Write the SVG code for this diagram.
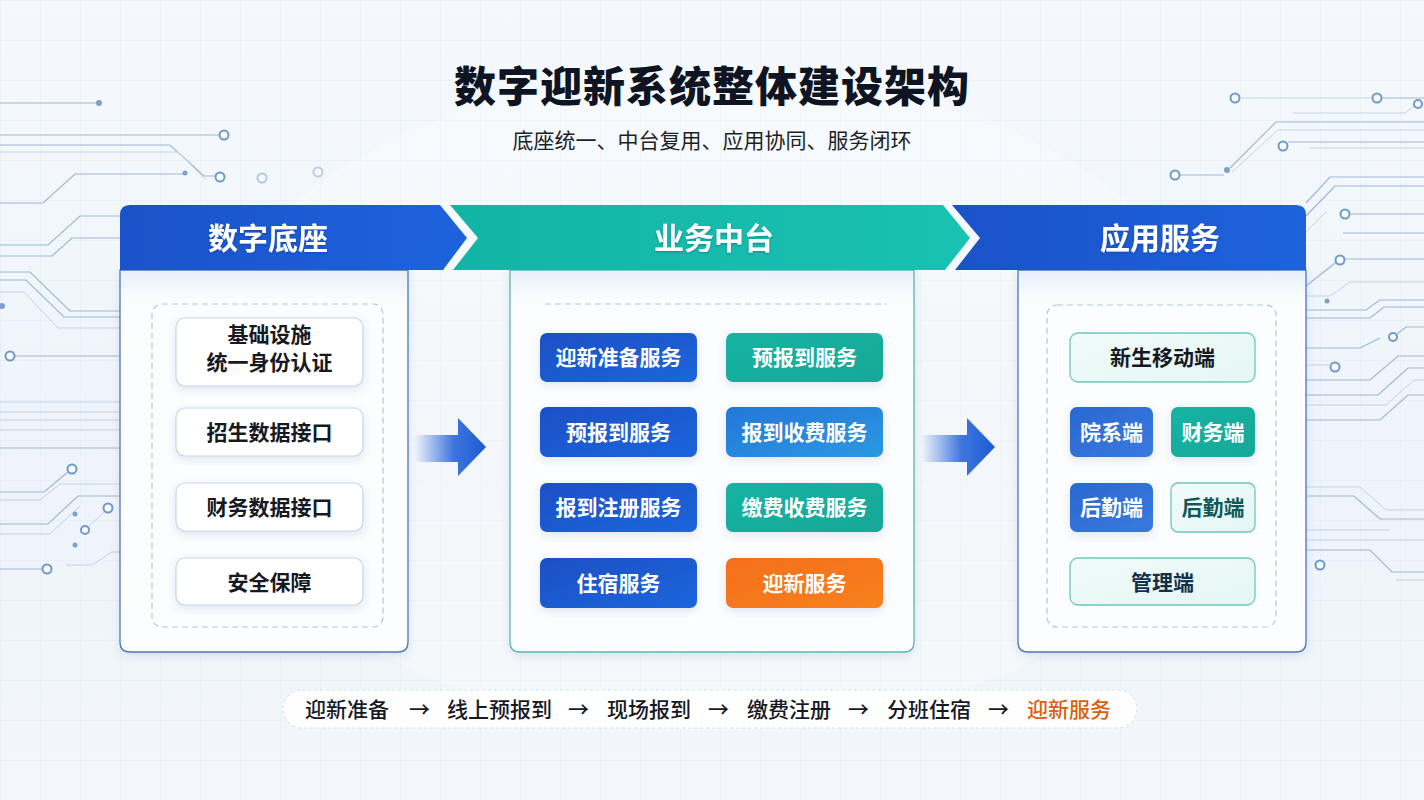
<svg xmlns="http://www.w3.org/2000/svg" width="1424" height="800" viewBox="0 0 1424 800">
<defs>
<style>
.cjk{font-family:"Noto Sans CJK SC","Noto Sans",sans-serif;}
.title{font-size:42px;font-weight:900;fill:#0e1422;letter-spacing:1px;}
.sub{font-size:21px;font-weight:400;fill:#1c1f26;}
.hdr{font-size:30px;font-weight:700;fill:#ffffff;}
.itm{font-size:21px;font-weight:600;fill:#16191f;}
.btn{font-size:21px;font-weight:700;fill:#ffffff;}
.flow{font-size:21px;font-weight:500;fill:#16191f;}
.circ{fill:none;stroke:#9db7d6;stroke-width:1.2;}
.circ2{fill:none;stroke:#c3d3e6;stroke-width:1;}
.ring{fill:#f7fafd;stroke:#7098c8;stroke-width:2;}
.dot{fill:#7c9fcc;}
.panelB{fill:url(#panelFill);stroke:#4d78b8;stroke-width:1.3;}
.panelT{fill:url(#panelFill);stroke:#5bb9ad;stroke-width:1.3;}
.dash{fill:none;stroke:#b7c5d6;stroke-width:1.2;stroke-dasharray:6 4;}
.card{fill:#ffffff;stroke:#c8d5e4;stroke-width:1.2;}
.lt{fill:url(#ltGrad);stroke:#6ec7ba;stroke-width:1.3;}
</style>
<linearGradient id="bg" x1="0" y1="0" x2="0" y2="1">
<stop offset="0" stop-color="#f5f9fd"/>
<stop offset="0.6" stop-color="#eef4fa"/>
<stop offset="1" stop-color="#f3f7fb"/>
</linearGradient>
<pattern id="grid" width="40" height="40" patternUnits="userSpaceOnUse">
<path d="M40 0H0V40" fill="none" stroke="#e0e9f3" stroke-width="1"/>
</pattern>
<linearGradient id="hBlue" x1="0" y1="0" x2="1" y2="0">
<stop offset="0" stop-color="#1a52c9"/>
<stop offset="1" stop-color="#1e63dc"/>
</linearGradient>
<linearGradient id="hTeal" x1="0" y1="0" x2="1" y2="0">
<stop offset="0" stop-color="#12b4a6"/>
<stop offset="1" stop-color="#19c2b2"/>
</linearGradient>
<linearGradient id="panelFill" x1="0" y1="0" x2="0" y2="1">
<stop offset="0" stop-color="#e6f0fb"/>
<stop offset="0.08" stop-color="#fbfdff"/>
<stop offset="1" stop-color="#fbfdff"/>
</linearGradient>
<linearGradient id="bBlue" x1="0" y1="0" x2="1" y2="1">
<stop offset="0" stop-color="#1a4fc6"/>
<stop offset="1" stop-color="#1f66db"/>
</linearGradient>
<linearGradient id="bTeal" x1="0" y1="0" x2="1" y2="1">
<stop offset="0" stop-color="#19b3a3"/>
<stop offset="1" stop-color="#14a898"/>
</linearGradient>
<linearGradient id="bSky" x1="0" y1="0" x2="1" y2="1">
<stop offset="0" stop-color="#2477d8"/>
<stop offset="1" stop-color="#2c98e2"/>
</linearGradient>
<linearGradient id="bOrange" x1="0" y1="0" x2="1" y2="1">
<stop offset="0" stop-color="#f56f1a"/>
<stop offset="1" stop-color="#f7801f"/>
</linearGradient>
<linearGradient id="bMid" x1="0" y1="0" x2="1" y2="1">
<stop offset="0" stop-color="#2a68d2"/>
<stop offset="1" stop-color="#3a7ade"/>
</linearGradient>
<linearGradient id="ltGrad" x1="0" y1="0" x2="1" y2="1">
<stop offset="0" stop-color="#f1fbfa"/>
<stop offset="1" stop-color="#e4f6f4"/>
</linearGradient>
<linearGradient id="arrowG" x1="0" y1="0" x2="1" y2="0">
<stop offset="0" stop-color="#1f5fd8" stop-opacity="0"/>
<stop offset="0.55" stop-color="#1f5fd8" stop-opacity="0.85"/>
<stop offset="1" stop-color="#1c5ad6"/>
</linearGradient>
<linearGradient id="lineL" x1="0" y1="0" x2="1" y2="0">
<stop offset="0" stop-color="#4b7fc4" stop-opacity="0"/>
<stop offset="1" stop-color="#4b7fc4"/>
</linearGradient>
<linearGradient id="lineR" x1="0" y1="0" x2="1" y2="0">
<stop offset="0" stop-color="#4b7fc4"/>
<stop offset="1" stop-color="#4b7fc4" stop-opacity="0"/>
</linearGradient>
<filter id="sh" x="-10%" y="-10%" width="120%" height="130%">
<feDropShadow dx="0" dy="3" stdDeviation="4" flood-color="#3a5f90" flood-opacity="0.15"/>
</filter>
<filter id="tsh" x="-10%" y="-20%" width="120%" height="140%">
<feDropShadow dx="0" dy="1" stdDeviation="1" flood-color="#0a2a60" flood-opacity="0.35"/>
</filter>
</defs>

<!-- background -->
<rect width="1424" height="800" fill="url(#bg)"/>
<rect width="1424" height="800" fill="url(#grid)" opacity="0.8"/>
<ellipse cx="712" cy="400" rx="520" ry="330" fill="#ffffff" opacity="0.3"/>

<!-- left circuitry -->
<g id="circuit-left">
<path class="circ" d="M0 103H99"/>
<circle class="dot" cx="99" cy="103" r="3"/>
<path class="circ" d="M0 135H220"/>
<circle class="ring" cx="224" cy="135" r="4.5"/>
<path class="circ" d="M0 145H170L204 176H216"/>
<path class="circ2" d="M0 152H178L206 180"/>
<circle class="ring" cx="220" cy="177" r="4.5"/>
<circle class="ring" cx="262" cy="178" r="4.5" stroke-opacity="0.5"/>
<circle class="ring" cx="318" cy="172" r="4.5" stroke-opacity="0.45"/>
<path class="circ" d="M0 203H43L75 174H185"/>
<circle class="dot" cx="185" cy="173" r="2.5"/>
<path class="circ" d="M0 245H48L80 216H120"/>
<path class="circ" d="M0 256H52L72 238H120"/>
<path class="circ" d="M0 272H30L70 311H120"/>
<path class="circ" d="M0 280H26L64 317H120"/>
<path class="circ2" d="M0 292H24L58 328H120"/>
<circle class="dot" cx="2" cy="306" r="3"/>
<path class="circ" d="M14 356H120"/>
<circle class="ring" cx="10" cy="356" r="4.5"/>
<path class="circ2" d="M0 402H120M0 412H120M0 420H120M0 430H120"/>
<path class="circ" d="M0 448H120"/>
<path class="circ" d="M0 492H44L68 472"/>
<circle class="ring" cx="72" cy="469" r="4.5"/>
<path class="circ2" d="M0 500H40L60 484H120"/>
<path class="circ" d="M0 524H48L78 496H120"/>
<path class="circ2" d="M0 534H50L80 506"/>
<circle class="ring" cx="108" cy="508" r="4.5"/>
<path class="circ2" d="M85 530L104 512"/>
<circle class="dot" cx="75" cy="514" r="2.5"/>
<circle class="ring" cx="85" cy="530" r="4"/>
<circle class="dot" cx="75" cy="545" r="2.5"/>
<path class="circ" d="M0 569H42"/>
<circle class="ring" cx="47" cy="569" r="4.5"/>
<path class="circ2" d="M66 565H92L112 552H120"/>
</g>

<!-- right circuitry -->
<g id="circuit-right">
<circle class="ring" cx="1235" cy="98" r="4.5"/>
<path class="circ2" d="M1240 98H1372"/>
<circle class="ring" cx="1377" cy="98" r="4.5"/>
<path class="circ" d="M1382 98H1424"/>
<path class="circ2" d="M1293 113H1405L1414 106"/>
<circle class="ring" cx="1418" cy="104" r="4"/>
<path class="circ" d="M1424 122H1276L1230 168"/>
<circle class="dot" cx="1227" cy="170" r="3"/>
<path class="circ" d="M1180 175H1224"/>
<circle class="ring" cx="1175" cy="175" r="4.5"/>
<path class="circ2" d="M1232 172L1278 130H1424"/>
<circle class="ring" cx="1283" cy="146" r="4.5"/>
<path class="circ" d="M1288 142H1424"/>
<path class="circ2" d="M1310 148H1424"/>
<path class="circ" d="M1424 177H1330L1306 203"/>
<path class="circ" d="M1424 186H1335L1306 216"/>
<circle class="ring" cx="1345" cy="214" r="4.5"/>
<path class="circ" d="M1350 214H1424"/>
<path class="circ2" d="M1306 232L1326 212"/>
<path class="circ" d="M1424 233H1343"/>
<path class="circ" d="M1344 256L1306 286"/>
<circle class="ring" cx="1340" cy="260" r="4.5"/>
<path class="circ" d="M1345 259H1424"/>
<path class="circ2" d="M1306 296H1330L1350 282H1424"/>
<circle class="dot" cx="1327" cy="301" r="2.5"/>
<path class="circ" d="M1424 300H1380L1366 310H1306"/>
<path class="circ" d="M1424 307H1384L1370 318H1306"/>
<circle class="ring" cx="1393" cy="337" r="4"/>
<path class="circ" d="M1397 334L1406 327H1424"/>
<circle class="ring" cx="1335" cy="367" r="4.5"/>
<path class="circ2" d="M1306 365H1331"/>
<path class="circ" d="M1306 348H1360L1380 338"/>
<path class="circ" d="M1306 380H1370L1398 356H1424"/>
<path class="circ" d="M1306 395H1378L1408 368H1424"/>
<path class="circ2" d="M1306 405H1386L1414 380H1424"/>
<path class="circ" d="M1306 420H1380L1408 395H1424"/>
<path class="circ2" d="M1306 487H1360L1386 510H1424"/>
<path class="circ" d="M1306 496H1354L1380 519H1424"/>
<path class="circ2" d="M1306 530H1390M1306 540H1424"/>
<path class="circ" d="M1306 550H1370L1392 572H1424"/>
<circle class="ring" cx="1320" cy="565" r="4.5"/>
<path class="circ2" d="M1396 580H1424"/>
</g>

<!-- title -->
<g id="title">
<text class="cjk title" x="712" y="102" text-anchor="middle">数字迎新系统整体建设架构</text>
<text class="cjk sub" x="712" y="148" text-anchor="middle">底座统一、中台复用、应用协同、服务闭环</text>
</g>

<!-- panel: 数字底座 -->
<g id="panel-base">
<path class="panelB" d="M120 270H408V642Q408 652 398 652H130Q120 652 120 642Z" filter="url(#sh)"/>
<path d="M130 205H440L467 238L443 270H120V215Q120 205 130 205Z" fill="url(#hBlue)"/>
<text class="cjk hdr" x="268" y="249" text-anchor="middle" filter="url(#tsh)">数字底座</text>
<rect class="dash" x="152" y="304" width="231" height="323" rx="10"/>
<g id="base-infra">
<rect class="card" x="176" y="318" width="187" height="68" rx="9" filter="url(#sh)"/>
<text class="cjk itm" x="269.5" y="342" text-anchor="middle">基础设施</text>
<text class="cjk itm" x="269.5" y="370" text-anchor="middle">统一身份认证</text>
</g>
<g id="base-enroll">
<rect class="card" x="176" y="408" width="187" height="48" rx="9" filter="url(#sh)"/>
<text class="cjk itm" x="269.5" y="440" text-anchor="middle">招生数据接口</text>
</g>
<g id="base-finance">
<rect class="card" x="176" y="483" width="187" height="48" rx="9" filter="url(#sh)"/>
<text class="cjk itm" x="269.5" y="515" text-anchor="middle">财务数据接口</text>
</g>
<g id="base-security">
<rect class="card" x="176" y="558" width="187" height="47" rx="9" filter="url(#sh)"/>
<text class="cjk itm" x="269.5" y="589.5" text-anchor="middle">安全保障</text>
</g>
</g>

<!-- panel: 业务中台 -->
<g id="panel-middle">
<path class="panelT" d="M510 270H914V642Q914 652 904 652H520Q510 652 510 642Z" filter="url(#sh)"/>
<path d="M450 205H943L970 238L945 270H453L478 238Z" fill="url(#hTeal)"/>
<text class="cjk hdr" x="714" y="249" text-anchor="middle" filter="url(#tsh)">业务中台</text>
<path class="dash" d="M545 304H887"/>
<g id="svc-prep">
<rect x="540" y="333" width="157" height="49" rx="7" fill="url(#bBlue)" filter="url(#sh)"/>
<text class="cjk btn" x="618.5" y="365" text-anchor="middle">迎新准备服务</text>
</g>
<g id="svc-prereg-a">
<rect x="726" y="333" width="157" height="49" rx="7" fill="url(#bTeal)" filter="url(#sh)"/>
<text class="cjk btn" x="804.5" y="365" text-anchor="middle">预报到服务</text>
</g>
<g id="svc-prereg-b">
<rect x="540" y="407" width="157" height="50" rx="7" fill="url(#bBlue)" filter="url(#sh)"/>
<text class="cjk btn" x="618.5" y="439.5" text-anchor="middle">预报到服务</text>
</g>
<g id="svc-regfee">
<rect x="726" y="407" width="157" height="50" rx="7" fill="url(#bSky)" filter="url(#sh)"/>
<text class="cjk btn" x="804.5" y="439.5" text-anchor="middle">报到收费服务</text>
</g>
<g id="svc-register">
<rect x="540" y="483" width="157" height="49" rx="7" fill="url(#bBlue)" filter="url(#sh)"/>
<text class="cjk btn" x="618.5" y="515" text-anchor="middle">报到注册服务</text>
</g>
<g id="svc-payment">
<rect x="726" y="483" width="157" height="49" rx="7" fill="url(#bTeal)" filter="url(#sh)"/>
<text class="cjk btn" x="804.5" y="515" text-anchor="middle">缴费收费服务</text>
</g>
<g id="svc-dorm">
<rect x="540" y="558" width="157" height="50" rx="7" fill="url(#bBlue)" filter="url(#sh)"/>
<text class="cjk btn" x="618.5" y="590.5" text-anchor="middle">住宿服务</text>
</g>
<g id="svc-welcome">
<rect x="726" y="558" width="157" height="50" rx="7" fill="url(#bOrange)" filter="url(#sh)"/>
<text class="cjk btn" x="804.5" y="590.5" text-anchor="middle">迎新服务</text>
</g>
</g>

<!-- panel: 应用服务 -->
<g id="panel-app">
<path class="panelB" d="M1018 270H1306V642Q1306 652 1296 652H1028Q1018 652 1018 642Z" filter="url(#sh)"/>
<path d="M952 205H1296Q1306 205 1306 215V270H955L980 238Z" fill="url(#hBlue)"/>
<text class="cjk hdr" x="1160" y="249" text-anchor="middle" filter="url(#tsh)">应用服务</text>
<rect class="dash" x="1047" y="305" width="229" height="322" rx="10"/>
<g id="app-mobile">
<rect class="lt" x="1070" y="333" width="185" height="49" rx="8"/>
<text class="cjk itm" x="1162.5" y="365" text-anchor="middle">新生移动端</text>
</g>
<g id="app-dept">
<rect x="1070" y="407" width="83" height="50" rx="7" fill="url(#bMid)" filter="url(#sh)"/>
<text class="cjk btn" x="1111.5" y="439.5" text-anchor="middle">院系端</text>
</g>
<g id="app-finance">
<rect x="1171" y="407" width="84" height="50" rx="7" fill="url(#bTeal)" filter="url(#sh)"/>
<text class="cjk btn" x="1213" y="439.5" text-anchor="middle">财务端</text>
</g>
<g id="app-logistics-a">
<rect x="1070" y="483" width="83" height="49" rx="7" fill="url(#bMid)" filter="url(#sh)"/>
<text class="cjk btn" x="1111.5" y="515" text-anchor="middle">后勤端</text>
</g>
<g id="app-logistics-b">
<rect class="lt" x="1171" y="483" width="84" height="49" rx="7"/>
<text class="cjk itm" x="1213" y="515" text-anchor="middle" style="fill:#0f5a57">后勤端</text>
</g>
<g id="app-admin">
<rect class="lt" x="1070" y="558" width="185" height="47" rx="8"/>
<text class="cjk itm" x="1162.5" y="589.5" text-anchor="middle" style="fill:#13304a">管理端</text>
</g>
</g>

<!-- connectors -->
<g id="connectors">
<path d="M414 435H458V418L486 447L458 476V462H414Z" fill="url(#arrowG)"/>
<path d="M921 435H967V418L995 447L967 476V462H921Z" fill="url(#arrowG)"/>
</g>

<!-- bottom flow -->
<g id="flow">
<path d="M190 709H283" stroke="url(#lineL)" stroke-width="1.5"/>
<path d="M1137 709H1232" stroke="url(#lineR)" stroke-width="1.5"/>
<rect x="283" y="690" width="854" height="38" rx="19" fill="#ffffff" fill-opacity="0.9" stroke="#d4dfeb" stroke-width="1" stroke-dasharray="3 3"/>
<text class="cjk flow" x="305" y="717">迎新准备</text>
<text class="cjk flow" x="409" y="717">→</text>
<text class="cjk flow" x="447" y="717">线上预报到</text>
<text class="cjk flow" x="568" y="717">→</text>
<text class="cjk flow" x="607" y="717">现场报到</text>
<text class="cjk flow" x="708" y="717">→</text>
<text class="cjk flow" x="747" y="717">缴费注册</text>
<text class="cjk flow" x="848" y="717">→</text>
<text class="cjk flow" x="887" y="717">分班住宿</text>
<text class="cjk flow" x="988" y="717">→</text>
<text class="cjk flow" x="1027" y="717" style="fill:#d8600e">迎新服务</text>
</g>
</svg>
